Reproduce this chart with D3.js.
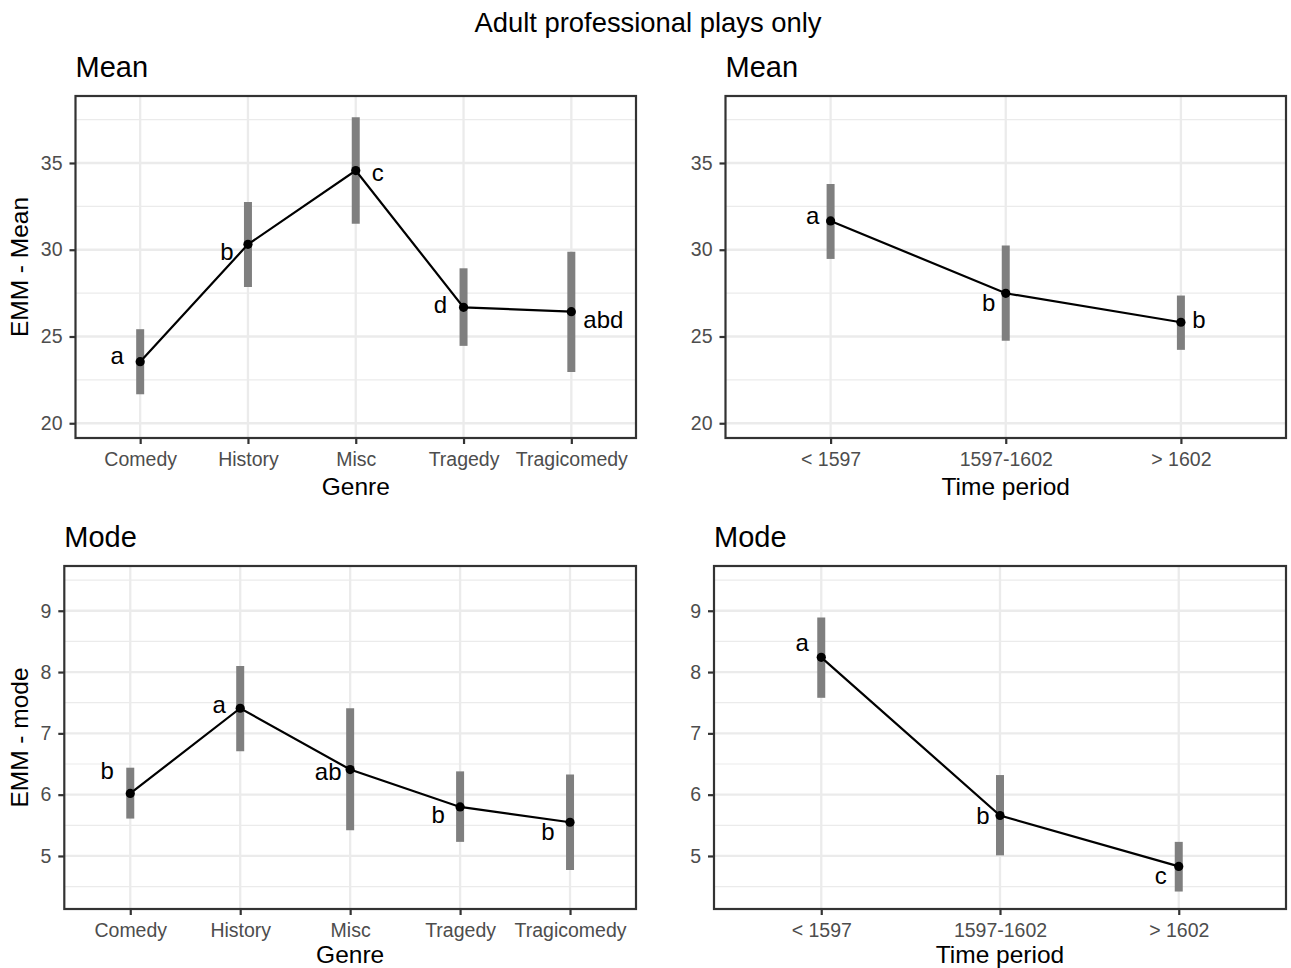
<!DOCTYPE html>
<html><head><meta charset="utf-8">
<script src="https://cdn.jsdelivr.net/npm/d3@7"></script>
<style>body{margin:0;background:#fff} svg{display:block}</style>
</head><body>
<script>
// ---------- data ----------
const genreCats  = ["Comedy", "History", "Misc", "Tragedy", "Tragicomedy"];
const periodCats = ["< 1597", "1597-1602", "> 1602"];

const meanGenreEmm = [23.55, 30.31, 34.56, 26.68, 26.43];
const meanGenreLo  = [21.67, 27.85, 31.50, 24.46, 22.96];
const meanGenreHi  = [25.42, 32.75, 37.63, 28.93, 29.89];
const meanGenreLetters = ["a", "b", "c", "d", "abd"];

const meanPeriodEmm = [31.66, 27.49, 25.82];
const meanPeriodLo  = [29.47, 24.76, 24.23];
const meanPeriodHi  = [33.79, 30.24, 27.36];
const meanPeriodLetters = ["a", "b", "b"];

const modeGenreEmm = [6.02, 7.41, 6.41, 5.80, 5.55];
const modeGenreLo  = [5.61, 6.71, 5.42, 5.23, 4.77];
const modeGenreHi  = [6.44, 8.10, 7.41, 6.38, 6.33];
const modeGenreLetters = ["b", "a", "ab", "b", "b"];

const modePeriodEmm = [8.24, 5.66, 4.83];
const modePeriodLo  = [7.58, 5.01, 4.42];
const modePeriodHi  = [8.89, 6.32, 5.23];
const modePeriodLetters = ["a", "b", "c"];

const meanTicks = [20, 25, 30, 35];
const meanMinor = [22.5, 27.5, 32.5, 37.5];
const modeTicks = [5, 6, 7, 8, 9];
const modeMinor = [4.5, 5.5, 6.5, 7.5, 8.5, 9.5];

// label placement (pixel offsets from each point: [dx, baseline dy])
const meanGenreLabelOff  = [[-23, 2], [-21, 16], [22, 10], [-23, 6], [32, 16]];
const meanPeriodLabelOff = [[-18, 3], [-17, 18], [18, 6]];
const modeGenreLabelOff  = [[-23, -14], [-21, 5], [-22, 10], [-22, 16], [-22, 18]];
const modePeriodLabelOff = [[-19, -6], [-17, 8], [-18, 18]];

// ---------- drawing ----------
const FONT = "'Liberation Sans', Arial, Helvetica, sans-serif";
const W = 1291, H = 968;
const svg = d3.select("body").append("svg").attr("width", W).attr("height", H)
  .style("font-family", FONT);
svg.append("rect").attr("width", W).attr("height", H).attr("fill", "#fff");

svg.append("text").attr("x", 648).attr("y", 32).attr("text-anchor", "middle")
  .attr("font-size", 27.4).attr("fill", "#000").text("Adult professional plays only");

function panel(cfg) {
  const {left, right, top, bottom} = cfg;
  const x = d3.scalePoint().domain(cfg.cats).range([left, right]).padding(0.6);
  const y = d3.scaleLinear().domain(cfg.yDomain).range([bottom, top]);
  const g = svg.append("g");

  g.append("rect").attr("x", left).attr("y", top).attr("width", right - left)
    .attr("height", bottom - top).attr("fill", "#fff");

  // minor grid
  g.selectAll(".minor").data(cfg.minor.filter(v => y(v) > top && y(v) < bottom)).join("line")
    .attr("x1", left).attr("x2", right).attr("y1", d => y(d)).attr("y2", d => y(d))
    .attr("stroke", "#ebebeb").attr("stroke-width", 1.2);
  // major grid
  g.selectAll(".majh").data(cfg.ticks).join("line")
    .attr("x1", left).attr("x2", right).attr("y1", d => y(d)).attr("y2", d => y(d))
    .attr("stroke", "#ebebeb").attr("stroke-width", 2.3);
  g.selectAll(".majv").data(cfg.cats).join("line")
    .attr("x1", d => x(d)).attr("x2", d => x(d)).attr("y1", top).attr("y2", bottom)
    .attr("stroke", "#ebebeb").attr("stroke-width", 2.3);

  const data = cfg.cats.map((c, i) => ({c, v: cfg.emm[i], lo: cfg.lo[i], hi: cfg.hi[i],
    lab: cfg.letters[i], off: cfg.off[i]}));

  // error bars
  g.selectAll(".bar").data(data).join("line")
    .attr("x1", d => x(d.c)).attr("x2", d => x(d.c))
    .attr("y1", d => y(d.lo)).attr("y2", d => y(d.hi))
    .attr("stroke", "#7f7f7f").attr("stroke-width", 8);

  // line
  g.append("path").datum(data)
    .attr("d", d3.line().x(d => x(d.c)).y(d => y(d.v)))
    .attr("fill", "none").attr("stroke", "#000").attr("stroke-width", 2.2);

  // points
  g.selectAll(".pt").data(data).join("circle")
    .attr("cx", d => x(d.c)).attr("cy", d => y(d.v)).attr("r", 4.6).attr("fill", "#000");

  // letters
  g.selectAll(".lab").data(data).join("text")
    .attr("x", d => x(d.c) + d.off[0]).attr("y", d => y(d.v) + d.off[1])
    .attr("text-anchor", "middle").attr("font-size", 24).attr("fill", "#000")
    .text(d => d.lab);

  // border
  g.append("rect").attr("x", left).attr("y", top).attr("width", right - left)
    .attr("height", bottom - top).attr("fill", "none")
    .attr("stroke", "#333333").attr("stroke-width", 2.2);

  // axes
  const ax = g.append("g").attr("transform", `translate(${left},0)`)
    .call(d3.axisLeft(y).tickValues(cfg.ticks).tickFormat(d3.format("d")).tickSize(6).tickPadding(7));
  const bx = g.append("g").attr("transform", `translate(0,${bottom})`)
    .call(d3.axisBottom(x).tickSize(6).tickPadding(8));
  [ax, bx].forEach(a => {
    a.select(".domain").remove();
    a.selectAll(".tick line").attr("stroke", "#333333").attr("stroke-width", 2.2);
    a.selectAll(".tick text").attr("fill", "#4d4d4d").attr("font-size", 19.5)
      .attr("font-family", FONT);
  });

  // titles
  g.append("text").attr("x", left).attr("y", top - 19).attr("font-size", 29)
    .attr("fill", "#000").text(cfg.title);
  g.append("text").attr("x", (left + right) / 2).attr("y", bottom + cfg.xTitleOff)
    .attr("text-anchor", "middle").attr("font-size", 24.5).attr("fill", "#000").text(cfg.xTitle);
  if (cfg.yTitle) {
    g.append("text").attr("transform", `translate(28,${(top + bottom) / 2}) rotate(-90)`)
      .attr("text-anchor", "middle").attr("font-size", 24.5).attr("fill", "#000").text(cfg.yTitle);
  }
}

panel({left: 75.5, right: 636, top: 96, bottom: 438, cats: genreCats,
  emm: meanGenreEmm, lo: meanGenreLo, hi: meanGenreHi, letters: meanGenreLetters, off: meanGenreLabelOff,
  yDomain: [19.15, 38.86], ticks: meanTicks, minor: meanMinor,
  title: "Mean", xTitle: "Genre", yTitle: "EMM - Mean", xTitleOff: 57});

panel({left: 725.5, right: 1286, top: 96, bottom: 438, cats: periodCats,
  emm: meanPeriodEmm, lo: meanPeriodLo, hi: meanPeriodHi, letters: meanPeriodLetters, off: meanPeriodLabelOff,
  yDomain: [19.15, 38.86], ticks: meanTicks, minor: meanMinor,
  title: "Mean", xTitle: "Time period", yTitle: null, xTitleOff: 57});

panel({left: 64.3, right: 636, top: 566, bottom: 909, cats: genreCats,
  emm: modeGenreEmm, lo: modeGenreLo, hi: modeGenreHi, letters: modeGenreLetters, off: modeGenreLabelOff,
  yDomain: [4.135, 9.73], ticks: modeTicks, minor: modeMinor,
  title: "Mode", xTitle: "Genre", yTitle: "EMM - mode", xTitleOff: 54});

panel({left: 714, right: 1286, top: 566, bottom: 909, cats: periodCats,
  emm: modePeriodEmm, lo: modePeriodLo, hi: modePeriodHi, letters: modePeriodLetters, off: modePeriodLabelOff,
  yDomain: [4.135, 9.73], ticks: modeTicks, minor: modeMinor,
  title: "Mode", xTitle: "Time period", yTitle: null, xTitleOff: 54});
</script>
</body></html>
